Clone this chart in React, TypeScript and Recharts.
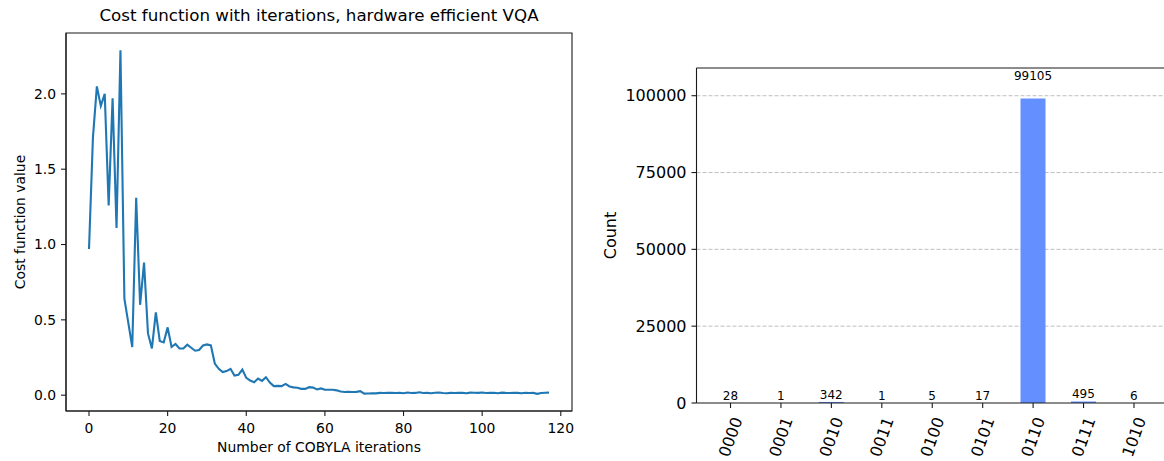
import React from 'react';
import {
  LineChart,
  Line,
  XAxis,
  YAxis,
  ReferenceArea,
  ReferenceLine,
  BarChart,
  Bar,
  CartesianGrid,
  LabelList,
} from 'recharts';

// Cost function value recorded at each COBYLA iteration
const iterationCost: number[] = [
  0.97, 1.71, 2.05, 1.92, 2.0, 1.26, 1.97, 1.11, 2.29, 0.64,
  0.48, 0.32, 1.31, 0.6, 0.88, 0.41, 0.31, 0.55, 0.36, 0.35,
  0.45, 0.32, 0.34, 0.31, 0.31, 0.335, 0.315, 0.295, 0.3, 0.33,
  0.337, 0.33, 0.21, 0.175, 0.153, 0.16, 0.175, 0.13, 0.135, 0.17,
  0.115, 0.097, 0.086, 0.11, 0.095, 0.119, 0.084, 0.06, 0.062, 0.06,
  0.075, 0.058, 0.052, 0.049, 0.042, 0.042, 0.053, 0.05, 0.038, 0.045,
  0.036, 0.036, 0.036, 0.032, 0.024, 0.021, 0.022, 0.021, 0.022, 0.027,
  0.01, 0.011, 0.013, 0.012, 0.015, 0.014, 0.016, 0.015, 0.014, 0.016,
  0.013, 0.018, 0.014, 0.015, 0.019, 0.014, 0.015, 0.013, 0.016, 0.018,
  0.014, 0.013, 0.015, 0.014, 0.016, 0.015, 0.013, 0.017, 0.016, 0.015,
  0.018, 0.014, 0.015, 0.016, 0.013, 0.017, 0.015, 0.014, 0.016, 0.015,
  0.013, 0.016, 0.014, 0.015, 0.009, 0.014, 0.016, 0.017,
];
const iterationTicks = [0, 20, 40, 60, 80, 100, 120];
const costTicks = [0, 0.5, 1, 1.5, 2];

// Measurement counts per bitstring
const bitstrings = ['0000', '0001', '0010', '0011', '0100', '0101', '0110', '0111', '1010'];
const counts = [28, 1, 342, 1, 5, 17, 99105, 495, 6];
const countTicks = [0, 25000, 50000, 75000, 100000];

const FONT = '"DejaVu Sans", sans-serif';

const costData = iterationCost.map((cost, iter) => ({ iter, cost }));
const countData = bitstrings.map((label, i) => ({ label, count: counts[i] }));

// Auto limits with a 5% margin on each side
const lastIter = iterationCost.length - 1;
const xMargin = lastIter * 0.05;
const xDomain: [number, number] = [-xMargin, lastIter + xMargin];
const costMin = Math.min(...iterationCost);
const costMax = Math.max(...iterationCost);
const yMargin = (costMax - costMin) * 0.05;
const yDomain: [number, number] = [costMin - yMargin, costMax + yMargin];
const countTop = Math.max(...counts) * 1.1;

const SPINE = '#1a1a1a';

const BitTick = (props: any) => {
  const { x, y, payload } = props;
  const cy = y + 25;
  return (
    <text
      x={x}
      y={cy}
      transform={`rotate(-70 ${x} ${cy})`}
      textAnchor="middle"
      dominantBaseline="central"
      fontSize={16}
      fontFamily={FONT}
      fill="#000"
    >
      {payload.value}
    </text>
  );
};

// Count label placed at 1.05 x the bar height, like the usual histogram annotation
const CountLabel = (props: any) => {
  const vb = props.viewBox ?? props;
  const x = Number(vb.x);
  const y = Number(vb.y);
  const w = Number(vb.width);
  const h = Number(vb.height);
  const bottom = y + h;
  const ly = bottom - 1.05 * h;
  return (
    <text
      x={x + w / 2}
      y={ly - 3}
      textAnchor="middle"
      fontSize={12}
      fontFamily={FONT}
      fill="#000"
    >
      {props.value}
    </text>
  );
};

export default function App() {
  return (
    <div
      style={{
        position: 'absolute',
        left: 0,
        top: 0,
        width: 1164,
        height: 461,
        overflow: 'hidden',
        background: '#fff',
      }}
    >
      <div style={{ position: 'absolute', left: 0, top: 0 }}>
        <LineChart
          width={600}
          height={461}
          data={costData}
          margin={{ top: 33, right: 28, bottom: 0, left: 0 }}
        >
          <XAxis
            dataKey="iter"
            type="number"
            domain={xDomain}
            ticks={iterationTicks}
            allowDataOverflow
            height={50}
            tickSize={5}
            tickMargin={7}
            axisLine={{ stroke: SPINE, strokeWidth: 1.1 }}
            tickLine={{ stroke: SPINE, strokeWidth: 1.1 }}
            tick={{ fill: '#000', fontSize: 13.9, fontFamily: FONT }}
          />
          <YAxis
            type="number"
            domain={yDomain}
            ticks={costTicks}
            allowDataOverflow
            width={66}
            tickSize={5}
            tickMargin={5}
            tickFormatter={(v: number) => v.toFixed(1)}
            axisLine={{ stroke: SPINE, strokeWidth: 1.1 }}
            tickLine={{ stroke: SPINE, strokeWidth: 1.1 }}
            tick={{ fill: '#000', fontSize: 13.9, fontFamily: FONT }}
          />
          <ReferenceArea
            x1={xDomain[0]}
            x2={xDomain[1]}
            y1={yDomain[0]}
            y2={yDomain[1]}
            fill="none"
            fillOpacity={0}
            stroke={SPINE}
            strokeWidth={1.1}
          />
          <Line
            dataKey="cost"
            type="linear"
            stroke="#1f77b4"
            strokeWidth={2.1}
            dot={false}
            activeDot={false}
            isAnimationActive={false}
          />
        </LineChart>
      </div>

      <div style={{ position: 'absolute', left: 590, top: 0 }}>
        <BarChart
          width={580}
          height={461}
          data={countData}
          margin={{ top: 68, right: 2, bottom: 0, left: 0 }}
          barCategoryGap="25%"
        >
          <CartesianGrid
            horizontal
            vertical={false}
            horizontalValues={countTicks.slice(1)}
            stroke="#b0b0b0"
            strokeWidth={0.8}
            strokeDasharray="4 2"
          />
          <XAxis
            dataKey="label"
            type="category"
            interval={0}
            padding={{ left: 8.8, right: 8.8 }}
            height={58}
            tickSize={5}
            tickMargin={4}
            axisLine={{ stroke: SPINE, strokeWidth: 1.1 }}
            tickLine={{ stroke: SPINE, strokeWidth: 1.1 }}
            tick={<BitTick />}
          />
          <YAxis
            type="number"
            domain={[0, countTop]}
            ticks={countTicks}
            allowDataOverflow
            width={106.5}
            tickSize={5}
            tickMargin={5}
            axisLine={{ stroke: SPINE, strokeWidth: 1.1 }}
            tickLine={{ stroke: SPINE, strokeWidth: 1.1 }}
            tick={{ fill: '#000', fontSize: 16, fontFamily: FONT }}
          />
          <ReferenceLine y={countTop} stroke={SPINE} strokeWidth={1.1} ifOverflow="extendDomain" />
          <Bar dataKey="count" fill="#648fff" isAnimationActive={false}>
            <LabelList dataKey="count" content={<CountLabel />} />
          </Bar>
        </BarChart>
      </div>

      <svg
        width={1164}
        height={461}
        style={{ position: 'absolute', left: 0, top: 0, pointerEvents: 'none' }}
      >
        <text x={319} y={21} textAnchor="middle" fontSize={16.7} fontFamily={FONT} fill="#000">
          Cost function with iterations, hardware efficient VQA
        </text>
        <text x={319} y={452} textAnchor="middle" fontSize={13.9} fontFamily={FONT} fill="#000">
          Number of COBYLA iterations
        </text>
        <text
          x={19.5}
          y={222}
          transform="rotate(-90 19.5 222)"
          textAnchor="middle"
          dominantBaseline="central"
          fontSize={13.9}
          fontFamily={FONT}
          fill="#000"
        >
          Cost function value
        </text>
        <text
          x={610.5}
          y={235.5}
          transform="rotate(-90 610.5 235.5)"
          textAnchor="middle"
          dominantBaseline="central"
          fontSize={16}
          fontFamily={FONT}
          fill="#000"
        >
          Count
        </text>
      </svg>
    </div>
  );
}
